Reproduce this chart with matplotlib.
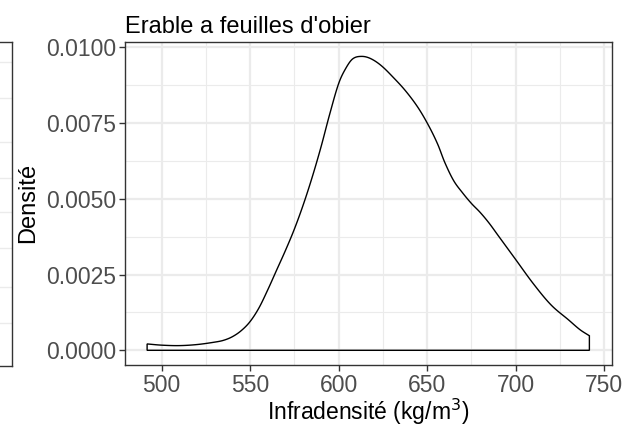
import matplotlib
matplotlib.use("Agg")
import matplotlib.pyplot as plt
import numpy as np
from matplotlib.ticker import MultipleLocator, FixedLocator

plt.rcParams['font.family'] = ['Liberation Sans', 'DejaVu Sans']

# Density curve (x: kg/m3, y: density)
infradensite = [491.8, 500.0, 510.0, 520.0, 530.0, 535.0, 540.0, 545.0, 550.0, 555.0,
                560.0, 565.0, 570.0, 575.0, 580.0, 585.0, 590.0, 595.0, 600.0, 604.0,
                608.0, 613.0, 618.0, 624.0, 631.0, 638.0, 645.0, 651.0, 656.0, 660.0,
                665.0, 670.0, 675.0, 680.0, 685.0, 690.0, 700.0, 710.0, 720.0, 730.0,
                736.4, 741.7]
densite = [0.00021, 0.00017, 0.000155, 0.00019, 0.00027, 0.00033, 0.00045, 0.00065, 0.00095, 0.0014,
           0.0020, 0.00265, 0.0033, 0.0040, 0.0048, 0.0057, 0.0067, 0.0078, 0.0088, 0.0093,
           0.00962, 0.0097, 0.00963, 0.0094, 0.0090, 0.00855, 0.0080, 0.0074, 0.0068, 0.0062,
           0.0056, 0.0052, 0.00485, 0.00455, 0.0042, 0.0038, 0.0030, 0.0022, 0.0015, 0.0010,
           0.00068, 0.00048]

title = "Erable a feuilles d'obier"
xlabel = "Infradensité (kg/m$^3$)"
ylabel = "Densité"
xticks = [500, 550, 600, 650, 700, 750]
yticks = [0.0, 0.0025, 0.005, 0.0075, 0.01]
ytick_labels = ["0.0000", "0.0025", "0.0050", "0.0075", "0.0100"]


def smooth_curve(x, y, n=12):
    """Cubic Hermite rendering through the read points (drawing only)."""
    x = np.asarray(x, float)
    y = np.asarray(y, float)
    m = np.zeros_like(y)
    m[1:-1] = (y[2:] - y[:-2]) / (x[2:] - x[:-2])
    m[0] = (y[1] - y[0]) / (x[1] - x[0])
    m[-1] = (y[-1] - y[-2]) / (x[-1] - x[-2])
    xs, ys = [], []
    for i in range(len(x) - 1):
        h = x[i + 1] - x[i]
        t = np.linspace(0, 1, n, endpoint=False)
        h00 = 2 * t**3 - 3 * t**2 + 1
        h10 = t**3 - 2 * t**2 + t
        h01 = -2 * t**3 + 3 * t**2
        h11 = t**3 - t**2
        xs.append(x[i] + t * h)
        ys.append(h00 * y[i] + h10 * h * m[i] + h01 * y[i + 1] + h11 * h * m[i + 1])
    xs.append([x[-1]])
    ys.append([y[-1]])
    return np.concatenate(xs), np.concatenate(ys)


W, H = 630, 429
fig = plt.figure(figsize=(W / 100, H / 100), dpi=100)

grid_c = "#EBEBEB"
border_c = "#333333"
tick_c = "#4D4D4D"

# Partial neighbour panel on the far left
axl = fig.add_axes([-200 / W, (H - 366) / H, 211.5 / W, 324 / H])
axl.set_xlim(0, 1)
axl.set_ylim(0, 1)
axl.set_xticks([])
axl.yaxis.set_major_locator(FixedLocator([0.133, 0.244, 0.364, 0.475, 0.580, 0.691, 0.827, 0.938]))
axl.tick_params(axis='y', length=0, labelleft=False)
axl.grid(True, axis='y', color=grid_c, linewidth=1.0)
for s in axl.spines.values():
    s.set_color(border_c)
    s.set_linewidth(1.0)

# Main panel
ax = fig.add_axes([125 / W, (H - 365) / H, (611.5 - 125) / W, (365 - 41.7) / H])
cx, cy = smooth_curve(infradensite, densite)
xs = np.concatenate([[infradensite[0]], cx, [infradensite[-1]]])
ys = np.concatenate([[0.0], cy, [0.0]])
ax.fill(xs, ys, facecolor='none', edgecolor='black', linewidth=1.0, zorder=3)

rng = infradensite[-1] - infradensite[0]
ax.set_xlim(infradensite[0] - 0.05 * rng, infradensite[-1] + 0.05 * rng)
ymax = max(densite)
ax.set_ylim(-0.05 * ymax, ymax * 1.05)

ax.set_xticks(xticks)
ax.set_yticks(yticks)
ax.set_yticklabels(ytick_labels)
ax.xaxis.set_minor_locator(MultipleLocator(25))
ax.yaxis.set_minor_locator(MultipleLocator(0.00125))
ax.grid(True, which='major', color=grid_c, linewidth=1.6, zorder=0)
ax.grid(True, which='minor', color=grid_c, linewidth=0.8, zorder=0)
ax.set_axisbelow(True)
ax.tick_params(which='major', length=4.5, width=1.0, color=border_c,
               labelsize=16.5, labelcolor=tick_c, pad=2)
ax.tick_params(which='minor', length=0)
for s in ax.spines.values():
    s.set_color(border_c)
    s.set_linewidth(1.0)

ax.set_title(title, loc='left', fontsize=17, color='black', pad=6)
ax.set_xlabel(xlabel, fontsize=16.5, color='black', labelpad=0)
ax.set_ylabel(ylabel, fontsize=17, color='black', labelpad=5)

fig.savefig("out.png", dpi=100)
